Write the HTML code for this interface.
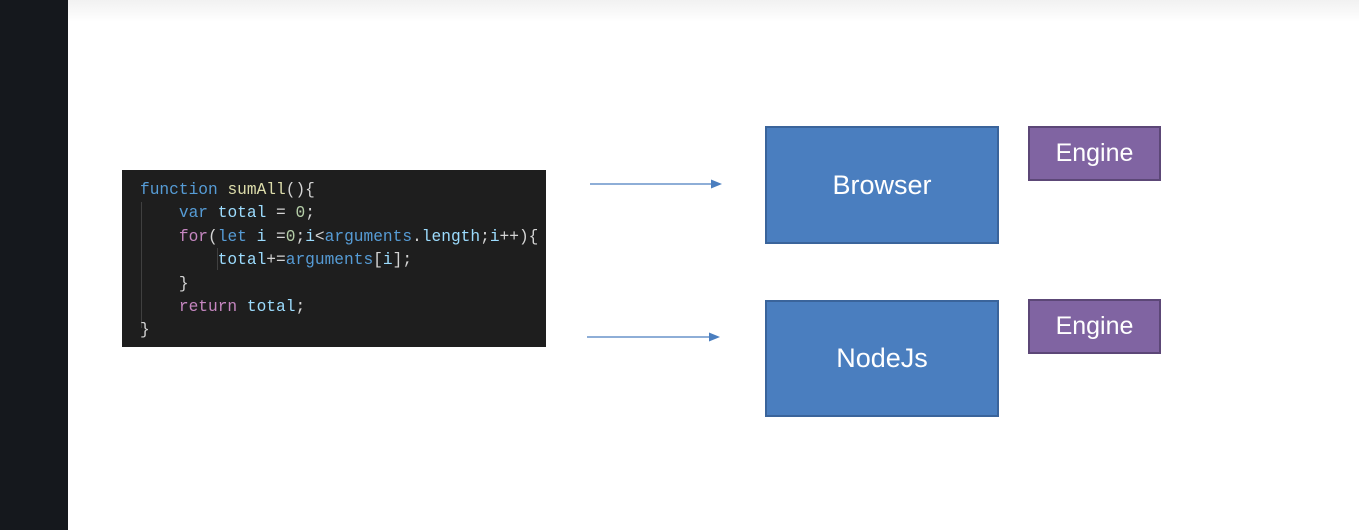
<!DOCTYPE html>
<html><head><style>
body{margin:0;width:1359px;height:530px;position:relative;background:#fff;overflow:hidden;font-family:"Liberation Sans",sans-serif}
.side{position:absolute;left:0;top:0;width:68px;height:530px;background:#15181d}
.top{position:absolute;left:68px;top:0;right:0;height:22px;background:linear-gradient(#f1f1f1,#fff)}
.code{position:absolute;left:122px;top:170px;width:424px;height:177px;background:#1e1e1e;font-family:"Liberation Mono",monospace;font-size:16.2px;color:#d4d4d4}
.code div{position:absolute;left:18px;white-space:pre;line-height:20px}
.k{color:#569cd6}.f{color:#dcdcaa}.v{color:#9cdcfe}.n{color:#b5cea8}.c{color:#c586c0}.p{color:#4fc1ff}
.g{position:absolute;width:1px;background:#404040}
.box{position:absolute;box-sizing:border-box;color:#fff;display:flex;align-items:center;justify-content:center}
.b{background:#4a7ebf;border:2px solid #3a649b;font-size:27px}
.e{background:#8064a2;border:2px solid #5c4777;font-size:25px}
</style></head><body>
<div class="side"></div><div class="top"></div>
<div class="code">
<div class="g" style="left:19px;top:32px;height:126px"></div>
<div class="g" style="left:95px;top:78px;height:22px"></div>
<div style="top:10px"><span class="k">function</span> <span class="f">sumAll</span>(){</div>
<div style="top:33px">    <span class="k">var</span> <span class="v">total</span> = <span class="n">0</span>;</div>
<div style="top:57px">    <span class="c">for</span>(<span class="k">let</span> <span class="v">i</span> =<span class="n">0</span>;<span class="v">i</span>&lt;<span class="k">arguments</span>.<span class="v">length</span>;<span class="v">i</span>++){</div>
<div style="top:80px">        <span class="v">total</span>+=<span class="k">arguments</span>[<span class="v">i</span>];</div>
<div style="top:104px">    }</div>
<div style="top:127px">    <span class="c">return</span> <span class="v">total</span>;</div>
<div style="top:150px">}</div>
</div>
<svg style="position:absolute;left:0;top:0" width="1359" height="530">
<line x1="590" y1="184" x2="714" y2="184" stroke="#4a7ebf" stroke-width="1.3"/>
<polygon points="722,184 711,179.5 711,188.5" fill="#4a7ebf"/>
<line x1="587" y1="337" x2="712" y2="337" stroke="#4a7ebf" stroke-width="1.3"/>
<polygon points="720,337 709,332.5 709,341.5" fill="#4a7ebf"/>
</svg>
<div class="box b" style="left:765px;top:126px;width:234px;height:118px">Browser</div>
<div class="box b" style="left:765px;top:300px;width:234px;height:117px">NodeJs</div>
<div class="box e" style="left:1028px;top:126px;width:133px;height:55px">Engine</div>
<div class="box e" style="left:1028px;top:299px;width:133px;height:55px">Engine</div>
</body></html>
